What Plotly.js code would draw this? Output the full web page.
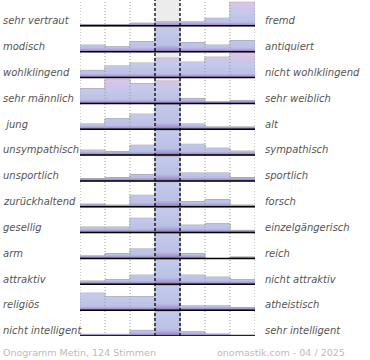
<!DOCTYPE html>
<html>
<head>
<meta charset="utf-8">
<script src="https://cdn.plot.ly/plotly-3.0.1.min.js"></script>
<style>html,body{margin:0;padding:0;background:#fff;}#chart{width:370px;height:360px;}</style>
</head>
<body>
<div id="chart"></div>
<script>
const leftLabels = ["sehr vertraut","modisch","wohlklingend","sehr männlich"," jung","unsympathisch","unsportlich","zurückhaltend","gesellig","arm","attraktiv","religiös","nicht intelligent"];
const rightLabels = ["fremd","antiquiert","nicht wohlklingend","sehr weiblich","alt","sympathisch","sportlich","forsch","einzelgängerisch","reich","nicht attraktiv","atheistisch","sehr intelligent"];

// bar values per row (scale: 25 = full row height; larger values are cut off)
const vVertraut     = [1.3, 1.3, 2.7, 4, 4, 7.7, 24];
const vModisch      = [6.7, 5, 10.3, 45, 9.3, 6.7, 11.3];
const vWohlklingend = [7.3, 11.7, 14.7, 19.7, 15.7, 20.7, 25];
const vMaennlich    = [15, 24.6, 20, 22.6, 5, 1.6, 3];
const vJung         = [5.3, 10.7, 15.3, 45, 5.3, 2.3, 2.3];
const vUnsympathisch= [5, 3.6, 10, 45, 11, 7, 4];
const vUnsportlich  = [2.4, 3.4, 6.4, 45, 8, 8, 3.4];
const vZurueck      = [2.7, 1.7, 11.7, 45, 5.3, 7.3, 1.7];
const vGesellig     = [5.6, 5.6, 14.6, 45, 7.6, 9, 2.3];
const vArm          = [2.6, 5, 9.6, 45, 5, 0, 1.5];
const vAttraktiv    = [3.3, 4.7, 9.3, 45, 9.3, 7.3, 4.7];
const vReligioes    = [17.3, 13.7, 13.7, 45, 4.3, 4.3, 2.7];
const vIntelligent  = [1.7, 1.7, 5.7, 45, 4.3, 2, 1];

const rows = [vVertraut,vModisch,vWohlklingend,vMaennlich,vJung,vUnsympathisch,vUnsportlich,vZurueck,vGesellig,vArm,vAttraktiv,vReligioes,vIntelligent];
const nRows = rows.length;
const nCols = 7;
const band = 0.95;
const full = 25;

const cscale = [[0,'#8070b6'],[0.06,'#a597d1'],[0.15,'#bbc0e5'],[0.5,'#c3c9ea'],[0.75,'#cfc5e9'],[1,'#e0c5e8']];

const traces = [];
const barX = [], barY = [], barBase = [];
rows.forEach((vals, i) => {
  const base = nRows - 1 - i;
  vals.forEach((v, c) => {
    const hTrue = v / full * band;
    const h = Math.min(hTrue, band);
    if (h > 0) {
      traces.push({
        type: 'scatter', mode: 'lines',
        x: [c, c, c + 1, c + 1, c], y: [base, base + h, base + h, base, base],
        fill: 'toself', line: {width: 0, color: 'rgba(0,0,0,0)'},
        fillgradient: {type: 'vertical', start: base, stop: base + Math.max(hTrue, band), colorscale: cscale},
        hoverinfo: 'skip', showlegend: false
      });
    }
    barX.push(c + 0.5); barY.push(h); barBase.push(base);
  });
});
traces.push({
  type: 'bar', x: barX, y: barY, base: barBase, width: 1,
  marker: {color: 'rgba(0,0,0,0)', line: {color: '#9a9a9a', width: 1}},
  hoverinfo: 'skip', showlegend: false
});

const shapes = [];
shapes.push({type:'rect', xref:'x', yref:'paper', x0:3, x1:4, y0:0, y1:1, fillcolor:'#ececec', line:{width:0}, layer:'below'});
for (let c = 0; c <= nCols; c++) {
  const mid = (c === 3 || c === 4);
  shapes.push({type:'line', xref:'x', yref:'paper', x0:c, x1:c, y0:0, y1:1, layer:'above',
    line: mid ? {color:'#000', width:1.3, dash:'3px,2px'} : {color:'#999', width:1, dash:'1px,2px'}});
}
for (let i = 0; i < nRows; i++) {
  const base = nRows - 1 - i;
  shapes.push({type:'line', xref:'x', yref:'y', x0:0, x1:nCols, y0:base, y1:base, layer:'above', line:{color:'#000', width:1.5}});
}

const plotW = 175;
const annotations = [];
leftLabels.forEach((t, i) => {
  const base = nRows - 1 - i;
  annotations.push({text: t, xref:'paper', yref:'y', x: (1 - 80) / plotW, y: base + 0.2, xanchor:'left', yanchor:'middle', showarrow:false,
    font:{family:'DejaVu Sans', size:10, color:'#555', style:'italic'}});
});
rightLabels.forEach((t, i) => {
  const base = nRows - 1 - i;
  annotations.push({text: t, xref:'paper', yref:'y', x: (263 - 80) / plotW, y: base + 0.2, xanchor:'left', yanchor:'middle', showarrow:false,
    font:{family:'DejaVu Sans', size:10, color:'#555', style:'italic'}});
});
annotations.push({text:'Onogramm Metin, 124 Stimmen', xref:'paper', yref:'paper', x:(1 - 80)/plotW, y:-16/336, xanchor:'left', yanchor:'middle', showarrow:false,
  font:{family:'DejaVu Sans', size:9.5, color:'#bbb'}});
annotations.push({text:'onomastik.com - 04 / 2025', xref:'paper', yref:'paper', x:(347 - 80)/plotW, y:-16/336, xanchor:'right', yanchor:'middle', showarrow:false,
  font:{family:'DejaVu Sans', size:9.5, color:'#bbb'}});

const layout = {
  width: 370, height: 360,
  margin: {l: 80, r: 115, t: 0, b: 24, pad: 0},
  paper_bgcolor: '#fff', plot_bgcolor: 'rgba(0,0,0,0)',
  xaxis: {range: [0, nCols], showgrid:false, zeroline:false, showticklabels:false, ticks:'', fixedrange:true},
  yaxis: {range: [0, nRows], showgrid:false, zeroline:false, showticklabels:false, ticks:'', fixedrange:true},
  barmode: 'overlay',
  shapes: shapes,
  annotations: annotations,
  showlegend: false
};
Plotly.newPlot('chart', traces, layout, {displayModeBar: false, staticPlot: true});
</script>
</body>
</html>
